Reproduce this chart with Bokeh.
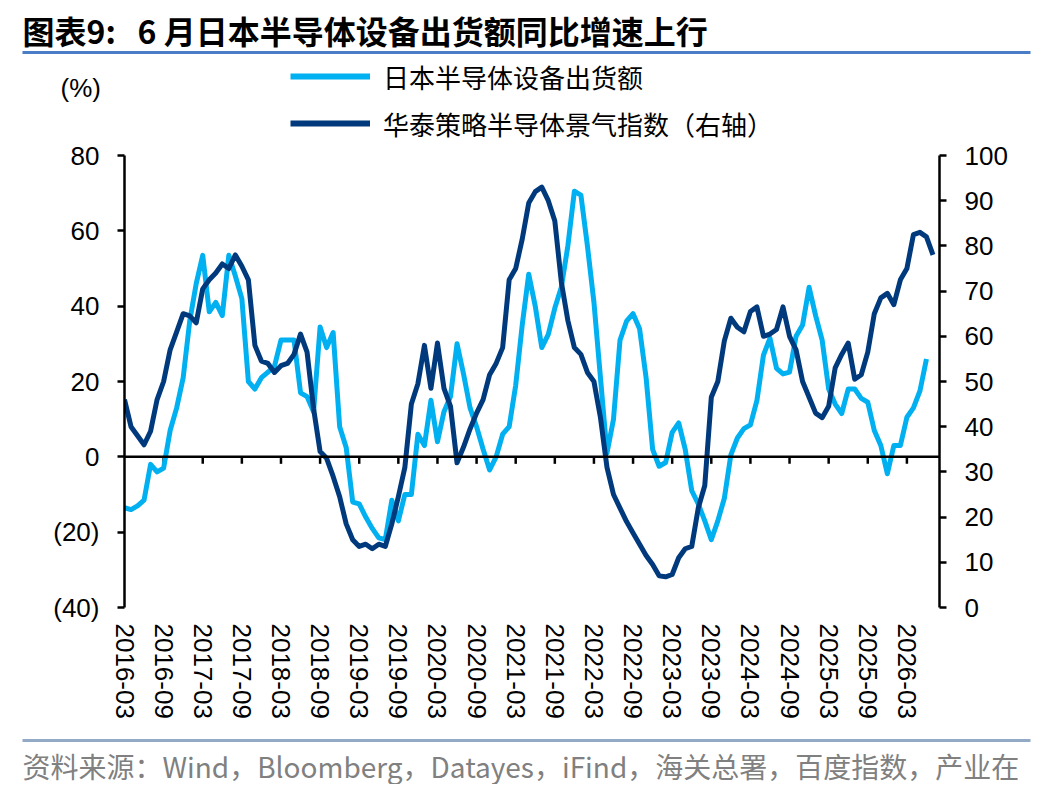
import pandas as pd
from bokeh.embed import file_html
from bokeh.layouts import column
from bokeh.models import (ColumnDataSource, FixedTicker, Label, Legend, LegendItem,
                          LinearAxis, NumeralTickFormatter, Range1d, Span)
from bokeh.plotting import figure
from bokeh.resources import INLINE

# monthly categories, starting 2016-03
months = pd.date_range("2016-03-01", periods=125, freq="MS").strftime("%Y-%m").tolist()

# 日本半导体设备出货额 同比 (%), 2016-03 .. 2026-06
japan_equipment = [
    -13.5, -14, -13, -11.5, -2, -4, -3, 7, 13, 21,
    36, 46, 53.5, 38.5, 41, 37.5, 53.5, 48, 42, 20,
    18, 21, 22.5, 24, 31, 31, 31, 17, 16, 12,
    34.5, 29, 33, 8, 2.5, -12, -12.5, -16, -19, -21.5,
    -22, -11.5, -17, -10, -10, 6, 3, 15, 4, 12,
    16, 30, 22, 13, 8, 2, -3.5, 0, 6, 8,
    19, 35, 48.5, 40, 29, 32.5, 39.5, 45, 56, 70.5,
    69.5, 56, 41, 21, 1, 10, 31, 36, 38, 34,
    21, 2, -2.5, -1.5, 6.5, 9, 2, -9, -12.5, -17,
    -22, -17, -11, 0.5, 5, 7.5, 8.5, 15, 27, 31.5,
    23.5, 22, 22.5, 32, 35, 45, 37.5, 31, 18, 14,
    11.5, 18, 18, 15.5, 14.5, 7, 3, -4.5, 3, 3,
    10.5, 13, 17.5, 26,
]

# 华泰策略半导体景气指数 (右轴), 2016-03 .. 2026-07
ht_index = [
    46, 40, 38, 36, 39, 46, 50, 57, 61, 65,
    64.5, 63, 70.5, 72.5, 74, 76, 75, 78, 75.5, 72.5,
    58, 54.5, 54, 52, 53.5, 54, 56, 60.5, 56.5, 44,
    34.5, 33, 29, 24.5, 18.5, 15, 13.5, 14, 13, 14,
    13.5, 18.5, 24.5, 31, 45, 49.5, 58, 48.5, 58.5, 48.5,
    44.5, 32, 35.5, 39.5, 43, 46, 51.5, 54, 57.5, 72.5,
    75, 81.5, 89.5, 92, 93, 90, 85.5, 72, 63.5, 57.5,
    56, 52, 50, 42, 31, 25, 22, 19, 16.5, 14,
    11.5, 9.5, 7, 6.8, 7.3, 11, 13, 13.5, 22, 27,
    46.5, 50, 59, 64, 62, 61, 65.5, 66.5, 60, 60.5,
    61.5, 66.5, 60, 57, 50, 46.5, 43, 42, 44.5, 53,
    56, 58.5, 50.5, 51.5, 56.5, 65, 68.5, 69.5, 67, 72.5,
    75, 82.5, 83, 82, 78,
]

left_ticks = [-40, -20, 0, 20, 40, 60, 80]
right_ticks = [0, 10, 20, 30, 40, 50, 60, 70, 80, 90, 100]
label_months = months[0:121:6]

name_lb = "日本半导体设备出货额"
name_db = "华泰策略半导体景气指数（右轴）"
title_text = "图表9:\u00a0\u00a0\u00a06 月日本半导体设备出货额同比增速上行"
source_text = "资料来源：Wind，Bloomberg，Datayes，iFind，海关总署，百度指数，产业在"

LIGHT = "#00B0F0"
DARK = "#003A7D"
FONT = "Liberation Sans"
CJK = "Noto Sans CJK SC"
W = 1040
TOP_H, FRAME_H, BOT_H = 140, 452, 52


def blank_fig(height):
    # a figure whose frame is the whole canvas, in pixel-like units
    f = figure(width=W, height=height, output_backend="svg", toolbar_location=None,
               x_range=Range1d(0, W), y_range=Range1d(height, 0),
               x_axis_location=None, y_axis_location=None, min_border=0,
               frame_align=False)
    f.grid.visible = False
    f.outline_line_color = None
    return f


# ---- header: title, rule, legend, unit
top = blank_fig(TOP_H)
top.add_layout(Label(x=22, y=29, text=title_text, text_font=CJK, text_font_style="bold",
                     text_font_size="32px", text_color="black", text_baseline="middle"))
top.segment(x0=22, y0=52, x1=1030, y1=52, line_color="#4A7CC8", line_width=3)
top.add_layout(Label(x=60, y=87, text="(%)", text_font=FONT, text_font_size="26px",
                     text_color="black", text_baseline="middle"))
nan = float("nan")
key_lb = top.line(x=[nan], y=[nan], line_width=6, color=LIGHT)
key_db = top.line(x=[nan], y=[nan], line_width=6, color=DARK)
legend = Legend(items=[LegendItem(label=name_lb, renderers=[key_lb]),
                       LegendItem(label=name_db, renderers=[key_db])],
                location=(290, -1.5))
legend.background_fill_alpha = 0
legend.border_line_color = None
legend.padding = 0
legend.margin = 0
legend.spacing = 10
legend.glyph_width = 80
legend.glyph_height = 20
legend.label_height = 20
legend.label_standoff = 13
legend.label_text_font = CJK
legend.label_text_font_size = "26px"
legend.label_text_color = "black"
top.add_layout(legend)

# ---- main chart
lb_src = ColumnDataSource(dict(x=list(range(len(japan_equipment))), y=japan_equipment,
                               month=months[:len(japan_equipment)]))
db_src = ColumnDataSource(dict(x=list(range(len(ht_index))), y=ht_index,
                               month=months[:len(ht_index)]))
label_pos = [months.index(m) for m in label_months]

p = figure(width=W, height=15 + FRAME_H + 125, output_backend="svg", toolbar_location=None,
           x_range=Range1d(0, 125), y_range=Range1d(left_ticks[0], left_ticks[-1]),
           min_border_left=124, min_border_right=W - 124 - 815, min_border_top=15,
           min_border_bottom=125, frame_align=False)
p.extra_y_ranges = {"right": Range1d(right_ticks[0], right_ticks[-1])}
p.grid.visible = False
p.outline_line_color = None

p.yaxis.ticker = FixedTicker(ticks=left_ticks)
p.yaxis.formatter = NumeralTickFormatter(format="(0)")
ax_r = LinearAxis(y_range_name="right", ticker=FixedTicker(ticks=right_ticks))
p.add_layout(ax_r, "right")
for ax in (p.yaxis[0], ax_r):
    ax.axis_line_width = 2.5
    ax.axis_line_color = "black"
    ax.major_tick_line_width = 2.5
    ax.major_tick_out = 7
    ax.major_tick_in = 0
    ax.minor_tick_line_color = None
    ax.major_label_text_font = FONT
    ax.major_label_text_font_size = "26px"
    ax.major_label_text_color = "black"
    ax.major_label_standoff = 18

# bottom axis keeps only its labels, the axis line sits at zero
p.xaxis.ticker = FixedTicker(ticks=label_pos)
p.xaxis.major_label_overrides = {i: m for i, m in zip(label_pos, label_months)}
p.xaxis.major_label_orientation = "vertical"
p.xaxis.axis_line_color = None
p.xaxis.major_tick_line_color = None
p.xaxis.minor_tick_line_color = None
p.xaxis.major_label_text_font = FONT
p.xaxis.major_label_text_font_size = "26px"
p.xaxis.major_label_text_color = "black"
p.xaxis.major_label_standoff = 10

p.add_layout(Span(location=0, dimension="width", line_color="black", line_width=2.5))
tick_len = (left_ticks[-1] - left_ticks[0]) / FRAME_H * 7
p.segment(x0=label_pos[1:], y0=0, x1=label_pos[1:], y1=-tick_len,
          line_color="black", line_width=2.5)

p.line("x", "y", source=lb_src, line_width=5, color=LIGHT, line_join="round")
p.line("x", "y", source=db_src, line_width=5, color=DARK, line_join="round",
       y_range_name="right")

# ---- footer: rule and source
bot = blank_fig(BOT_H)
bot.segment(x0=22, y0=8, x1=1030, y1=8, line_color="#93AAC6", line_width=3)
bot.add_layout(Label(x=22, y=33, text=source_text, text_font=CJK, text_font_size="28px",
                     text_color="#808080", text_baseline="middle"))

page = column(top, p, bot, spacing=0)
open("out.html", "w").write(file_html(page, INLINE))
